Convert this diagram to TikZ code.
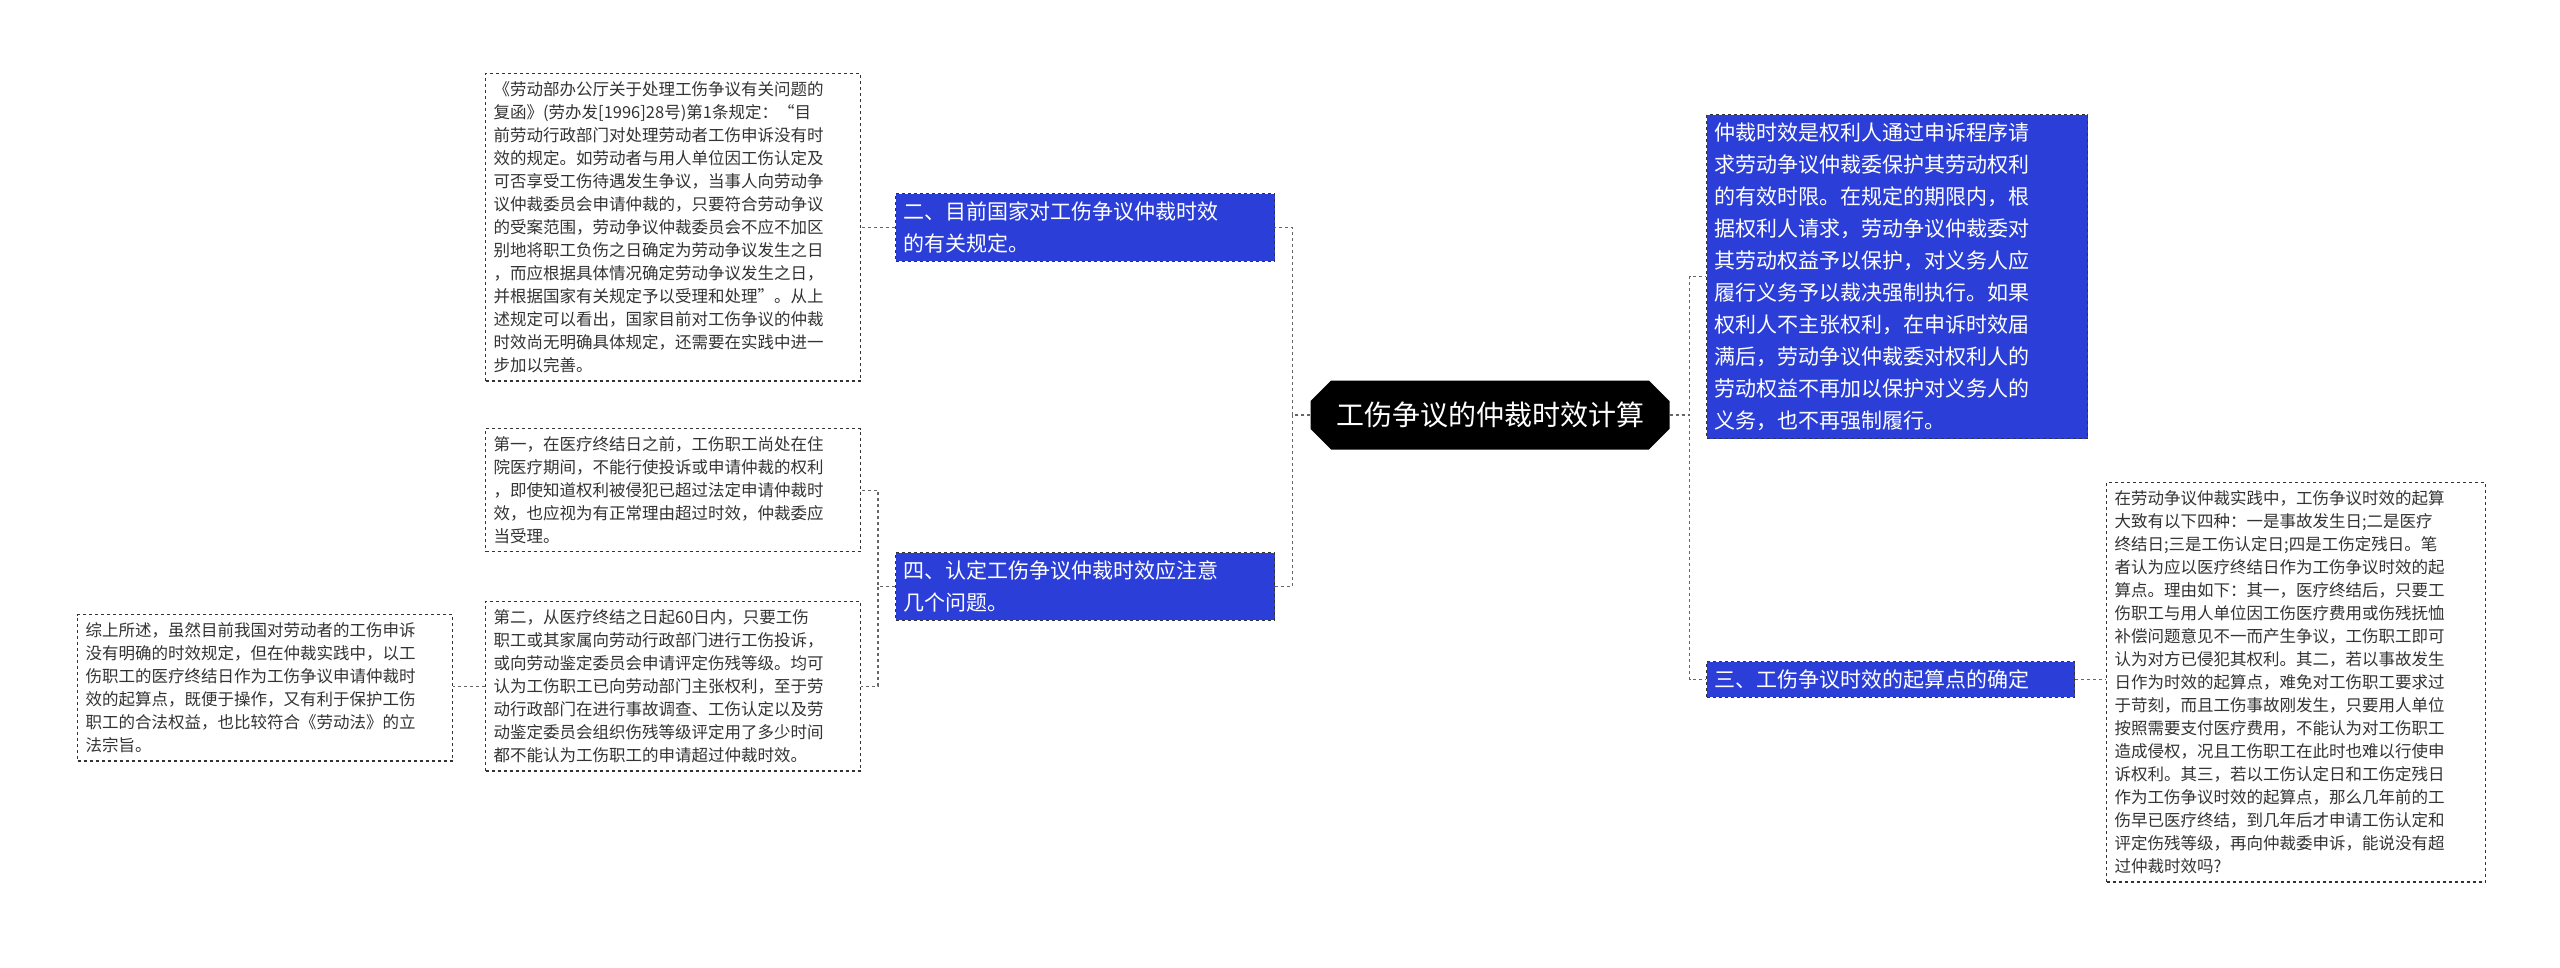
\documentclass[tikz,border=0pt]{standalone}
\usepackage{fontspec}
\setmainfont{Noto Sans CJK SC}
\usetikzlibrary{shapes.misc}
\begin{document}
\begin{tikzpicture}[x=1pt,y=-1pt,
  txt/.style={draw=black!80,dashed,line width=1.2pt,fill=white,align=left,inner sep=8pt,anchor=north west,font=\fontsize{16.5}{23}\selectfont,text=black!80},
  blue/.style={draw=black!80,dashed,line width=1.2pt,fill=blue!70!cyan!60!black,fill=blue!75!black,align=left,inner sep=8pt,anchor=north west,font=\fontsize{21}{32}\selectfont,text=white},
  link/.style={draw=black!60,dashed,line width=1.2pt}]
\useasboundingbox (0,0) rectangle (2560,968);
\definecolor{nb}{HTML}{2B3FD8}
\node[chamfered rectangle,chamfered rectangle xsep=2cm,fill=black,text=white,font=\fontsize{28}{34}\selectfont,minimum width=359pt,minimum height=69pt,inner sep=4pt] (root) at (1490,415) {工伤争议的仲裁时效计算};
\node[blue,fill=nb,text width=365pt] (r1) at (1706,114) {仲裁时效是权利人通过申诉程序请\\求劳动争议仲裁委保护其劳动权利\\的有效时限。在规定的期限内，根\\据权利人请求，劳动争议仲裁委对\\其劳动权益予以保护，对义务人应\\履行义务予以裁决强制执行。如果\\权利人不主张权利，在申诉时效届\\满后，劳动争议仲裁委对权利人的\\劳动权益不再加以保护对义务人的\\义务，也不再强制履行。};
\node[blue,fill=nb,text width=352pt] (r2) at (1706,661) {三、工伤争议时效的起算点的确定};
\node[txt,text width=363pt] (r2t) at (2106,482) {在劳动争议仲裁实践中，工伤争议时效的起算\\大致有以下四种：一是事故发生日;二是医疗\\终结日;三是工伤认定日;四是工伤定残日。笔\\者认为应以医疗终结日作为工伤争议时效的起\\算点。理由如下：其一，医疗终结后，只要工\\伤职工与用人单位因工伤医疗费用或伤残抚恤\\补偿问题意见不一而产生争议，工伤职工即可\\认为对方已侵犯其权利。其二，若以事故发生\\日作为时效的起算点，难免对工伤职工要求过\\于苛刻，而且工伤事故刚发生，只要用人单位\\按照需要支付医疗费用，不能认为对工伤职工\\造成侵权，况且工伤职工在此时也难以行使申\\诉权利。其三，若以工伤认定日和工伤定残日\\作为工伤争议时效的起算点，那么几年前的工\\伤早已医疗终结，到几年后才申请工伤认定和\\评定伤残等级，再向仲裁委申诉，能说没有超\\过仲裁时效吗?};
\node[blue,fill=nb,text width=363pt] (l1) at (895,193) {二、目前国家对工伤争议仲裁时效\\的有关规定。};
\node[blue,fill=nb,text width=363pt] (l2) at (895,552) {四、认定工伤争议仲裁时效应注意\\几个问题。};
\node[txt,text width=359pt] (l1t) at (485,73) {《劳动部办公厅关于处理工伤争议有关问题的\\复函》(劳办发[1996]28号)第1条规定：“目\\前劳动行政部门对处理劳动者工伤申诉没有时\\效的规定。如劳动者与用人单位因工伤认定及\\可否享受工伤待遇发生争议，当事人向劳动争\\议仲裁委员会申请仲裁的，只要符合劳动争议\\的受案范围，劳动争议仲裁委员会不应不加区\\别地将职工负伤之日确定为劳动争议发生之日\\，而应根据具体情况确定劳动争议发生之日，\\并根据国家有关规定予以受理和处理”。从上\\述规定可以看出，国家目前对工伤争议的仲裁\\时效尚无明确具体规定，还需要在实践中进一\\步加以完善。};
\node[txt,text width=359pt] (a1) at (485,428) {第一，在医疗终结日之前，工伤职工尚处在住\\院医疗期间，不能行使投诉或申请仲裁的权利\\，即使知道权利被侵犯已超过法定申请仲裁时\\效，也应视为有正常理由超过时效，仲裁委应\\当受理。};
\node[txt,text width=359pt] (a2) at (485,601) {第二，从医疗终结之日起60日内，只要工伤\\职工或其家属向劳动行政部门进行工伤投诉，\\或向劳动鉴定委员会申请评定伤残等级。均可\\认为工伤职工已向劳动部门主张权利，至于劳\\动行政部门在进行事故调查、工伤认定以及劳\\动鉴定委员会组织伤残等级评定用了多少时间\\都不能认为工伤职工的申请超过仲裁时效。};
\node[txt,text width=359pt] (a3) at (77,614) {综上所述，虽然目前我国对劳动者的工伤申诉\\没有明确的时效规定，但在仲裁实践中，以工\\伤职工的医疗终结日作为工伤争议申请仲裁时\\效的起算点，既便于操作，又有利于保护工伤\\职工的合法权益，也比较符合《劳动法》的立\\法宗旨。};
\draw[link] (root.east) -- ++(20,0) |- (r1.west);
\draw[link] (root.east) -- ++(20,0) |- (r2.west);
\draw[link] (root.west) -- ++(-18,0) |- (l1.east);
\draw[link] (root.west) -- ++(-18,0) |- (l2.east);
\draw[link] (r2.east) -- (r2t.west |- r2.east);
\draw[link] (l1.west) -- (l1t.east |- l1.west);
\draw[link] (l2.west) -- ++(-17,0) |- (a1.east);
\draw[link] (l2.west) -- ++(-17,0) |- (a2.east);
\draw[link] (a2.west) -- (a3.east |- a2.west);
\end{tikzpicture}
\end{document}
